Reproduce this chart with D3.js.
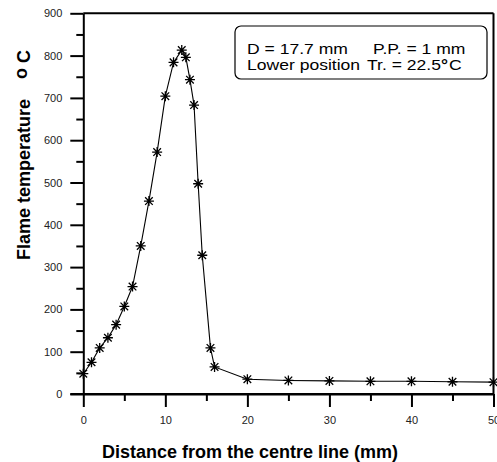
<!DOCTYPE html>
<html><head><meta charset="utf-8">
<script src="https://cdn.jsdelivr.net/npm/d3@7"></script>
<style>body{margin:0;background:#fff;} svg{display:block;}</style>
</head><body>
<svg id="c" width="497" height="462"></svg>
<script>
const distance = [0,1,2,3,4,5,6,7,8,9,10,11,12,12.5,13,13.5,14,14.5,15.5,16,20,25,30,35,40,45,50];
const temperature = [48,75,109,133,164,207,254,350,456,572,704,784,813,796,743,683,497,328,109,64,35,32,31,30,30,29,28];
const xTicks = [0,10,20,30,40,50];
const yTicks = [0,100,200,300,400,500,600,700,800,900];
const legendLine1 = ["D = 17.7 mm","P.P. = 1 mm"];
const legendLine2 = ["Lower position","Tr. = 22.5","°","C"];

const svg = d3.select("#c");
const x = d3.scaleLinear().domain([0,50]).range([83.3,493.5]);
const y = d3.scaleLinear().domain([0,900]).range([394,13.3]);
const font = "'Liberation Sans', Arial, sans-serif";

// frame top and right
svg.append("line").attr("x1",x(0)).attr("x2",x(50)).attr("y1",y(900)).attr("y2",y(900)).attr("stroke","#000").attr("stroke-width",2);
svg.append("line").attr("x1",x(50)).attr("x2",x(50)).attr("y1",y(900)).attr("y2",y(0)).attr("stroke","#000").attr("stroke-width",2);

// x axis
svg.append("g").attr("transform",`translate(0,${y(0)})`)
  .call(d3.axisBottom(x).tickValues(xTicks).tickSize(13).tickPadding(9).tickSizeOuter(0));
const xMinor = svg.append("g").attr("transform",`translate(0,${y(0)})`)
  .call(d3.axisBottom(x).tickValues(d3.range(5,50,10)).tickSize(7).tickFormat("").tickSizeOuter(0));
xMinor.select(".domain").remove();
// y axis
svg.append("g").attr("transform",`translate(${x(0)},0)`)
  .call(d3.axisLeft(y).tickValues(yTicks).tickSize(13).tickPadding(8).tickSizeOuter(0));
const yMinor = svg.append("g").attr("transform",`translate(${x(0)},0)`)
  .call(d3.axisLeft(y).tickValues(d3.range(50,900,100)).tickSize(7).tickFormat("").tickSizeOuter(0));
yMinor.select(".domain").remove();
svg.selectAll(".domain, .tick line").attr("stroke","#000").attr("stroke-width",2);
svg.selectAll(".tick text").attr("font-family",font).attr("font-size",11).attr("fill","#222");
svg.append("line").attr("x1",x(0)-13).attr("x2",x(50)).attr("y1",y(0)).attr("y2",y(0)).attr("stroke","#000").attr("stroke-width",2);

// data line
svg.append("path").datum(distance.map((d,i)=>[d,temperature[i]]))
  .attr("d", d3.line().x(d=>x(d[0])).y(d=>y(d[1])))
  .attr("fill","none").attr("stroke","#000").attr("stroke-width",1.1);

// asterisk markers
const r = 5, rd = 3.8;
const star = `M0,${-r}V${r}M${-r},0H${r}M${-rd},${-rd}L${rd},${rd}M${-rd},${rd}L${rd},${-rd}`;
svg.append("g").selectAll("path").data(distance.map((d,i)=>[d,temperature[i]])).join("path")
  .attr("transform",d=>`translate(${x(d[0])},${y(d[1])})`)
  .attr("d",star).attr("stroke","#000").attr("stroke-width",1.3).attr("fill","none");

// axis titles
svg.append("text").attr("x",250).attr("y",458).attr("text-anchor","middle")
  .attr("font-family",font).attr("font-weight","bold").attr("font-size",18).attr("fill","#000")
  .text("Distance from the centre line (mm)");
const yt = svg.append("text").attr("transform","translate(30,260) rotate(-90)").attr("text-anchor","start")
  .attr("font-family",font).attr("font-weight","bold").attr("font-size",18).attr("fill","#000");
yt.append("tspan").text("Flame temperature");
yt.append("tspan").attr("dx",20).attr("dy",-3).text("o");
yt.append("tspan").attr("dx",5).attr("dy",3).text("C");

// legend box
svg.append("rect").attr("x",235).attr("y",26).attr("width",252).attr("height",53).attr("rx",6)
  .attr("fill","#fff").attr("stroke","#000").attr("stroke-width",1.2);
const lg = svg.append("g").attr("font-family",font).attr("font-size",15).attr("fill","#000");
const sx = 1.17;
const place = (tx,ty) => `translate(${tx},${ty}) scale(${sx},1)`;
lg.append("text").attr("transform",place(247,54)).text(legendLine1[0]);
lg.append("text").attr("transform",place(373,54)).text(legendLine1[1]);
lg.append("text").attr("transform",place(247,70)).text(legendLine2[0]);
const t2 = lg.append("text").attr("transform",place(367,70));
t2.append("tspan").text(legendLine2[1]);
t2.append("tspan").attr("font-weight","bold").text(legendLine2[2]);
t2.append("tspan").attr("dx",1).text(legendLine2[3]);
</script>
</body></html>
